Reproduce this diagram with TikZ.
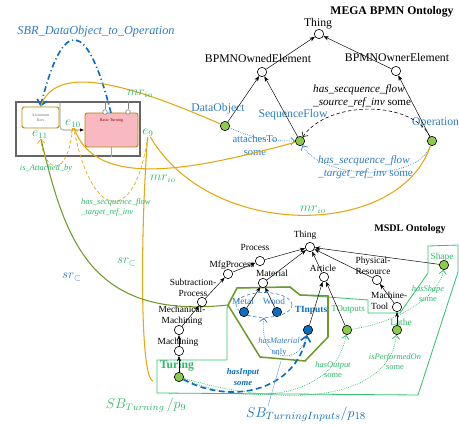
\documentclass[tikz,border=0pt]{standalone}
\usepackage{fontspec}
\setmainfont{Liberation Serif}
\usepackage{tikz}
\usetikzlibrary{arrows.meta,positioning,calc,shapes.geometric}
\definecolor{megablue}{HTML}{2E7CC4}
\definecolor{instblue}{HTML}{0A6CC2}
\definecolor{instgreen}{HTML}{8CCB4A}
\definecolor{markgreen}{HTML}{2DB86A}
\definecolor{goldline}{HTML}{E2A80E}
\definecolor{olivegreen}{HTML}{6F9A2A}
\definecolor{framegreen}{HTML}{33C270}
\definecolor{turnpink}{HTML}{F8B9C2}

\begin{document}
\begin{tikzpicture}[
  x=0.3mm, y=-0.3mm,
  cls/.style={circle, draw, fill=white, minimum size=2.8mm, inner sep=0pt, line width=0.5pt},
  inst/.style={cls, fill=instgreen},
  binst/.style={cls, fill=instblue},
  bigtxt/.style={inner sep=0pt, font=\fontsize{10}{11}\selectfont},
  smalltxt/.style={inner sep=0pt, align=center, font=\fontsize{8}{9}\selectfont},
  title/.style={inner sep=0pt, font=\bfseries\fontsize{10}{11}\selectfont},
  isa/.style={-{Stealth[length=1.6mm, width=1.2mm]}, line width=0.4pt},
  barb/.style={-{Straight Barb[length=1.1mm, width=2.2mm]}},
  relnote/.style={inner sep=0pt, align=left, font=\itshape\fontsize{9.5}{11}\selectfont},
  minirel/.style={inner sep=0pt, align=center, font=\itshape\fontsize{7.2}{8.6}\selectfont},
  elabel/.style={inner sep=0pt, text=markgreen, font=\fontsize{10.5}{12}\selectfont},
  goldln/.style={draw=goldline, line width=0.9pt},
  golddash/.style={draw=goldline, densely dashed, line width=0.6pt, barb},
  bpmnitem/.style={rectangle, rounded corners=2pt, draw=goldline!80!black, line width=0.8pt,
    inner sep=1pt, font=\fontsize{3.5}{4}\selectfont, text=gray},
  greendot/.style={draw=markgreen, densely dotted, line width=0.6pt, barb},
  bluedot/.style={draw=megablue, densely dotted, line width=0.6pt, barb}
]
\useasboundingbox (0,0) rectangle (459,425);

% regions of the two patterns
\coordinate (olv1) at (228,305);
\draw[framegreen, line width=0.7pt]
  (157,360) -- (227,360) -- (227,308) -- (237,288) -- (290,287) -- (300,295)
  -- (368,300) -- (368,313) -- (400,313) -- (428,273) -- (428,246) -- (458,245)
  -- (458,272) -- (418,395) -- (157,393) -- cycle;
\draw[olivegreen, line width=1.3pt]
  (olv1) -- (237,288) -- (290,287) -- (300,295) -- (328,296) -- (328,337)
  -- (305,361) -- (260,357) -- cycle;

% MEGA BPMN ontology
\node[title] (megatitle) at (392,12) {MEGA BPMN Ontology};
\node[cls] (thinga) at (319,34) {};
\node[bigtxt] (thingatxt) at (318,24) {Thing};
\node[cls] (owned) at (262,72) {};
\node[bigtxt] (ownedtxt) at (258,58) {BPMNOwnedElement};
\node[cls] (owner) at (396,71) {};
\node[bigtxt] (ownertxt) at (397,57) {BPMNOwnerElement};
\node[inst] (dataobj) at (225,126) {};
\node[bigtxt, text=megablue] (dataobjtxt) at (218,109) {DataObject};
\node[inst] (seqflow) at (300,141) {};
\node[bigtxt, text=megablue] (seqflowtxt) at (293,115) {SequenceFlow};
\node[inst] (operation) at (432,141) {};
\node[bigtxt, text=megablue, anchor=west] (operationtxt) at (412,123) {Operation};

\foreach \a/\b in {dataobj/owned, seqflow/owned, owned/thinga, operation/owner, owner/thinga}
  \draw[isa] (\a) -- (\b);

\draw[densely dashed, line width=0.5pt, barb] (operation) .. controls (412,100) and (328,100) .. (seqflow);
\node[relnote, anchor=west] (srcnote) at (313,96) {has\_secquence\_flow\\\_source\_ref\_inv \upshape some};
\draw[bluedot] (dataobj) to[bend right=12] (seqflow);
\node[inner sep=0pt, align=center, text=megablue, font=\fontsize{9}{11}\selectfont] (attnote) at (255,145) {attachesTo\\some};
\draw[bluedot] (operation) .. controls (418,182) and (322,180) .. (seqflow);
\node[relnote, anchor=west, text=megablue] (tgtnote) at (318,167) {has\_secquence\_flow\\\_target\_ref\_inv \upshape some};

% BPMN model fragment
\node[draw=gray!80!black, line width=1pt, minimum width=37.2mm, minimum height=16.2mm] (bpmnbox) at (78,129) {};
\node[bpmnitem, fill=white, minimum width=11.1mm, minimum height=6.3mm, align=center] (alubox) at (40.5,117.5) {Aluminum\\Bars};
\node[bpmnitem, fill=turnpink, minimum width=15.9mm, minimum height=10.2mm, text=red!50!black, text depth=6mm] (turnbox) at (111.5,130) {Basic Turning};
\foreach \x/\n in {105/evta, 128/evtb} {
  \node[circle, draw=gray, fill=white, minimum size=1.4mm, inner sep=0pt, line width=0.5pt] (\n) at (\x,112) {};
  \draw[gray, line width=0.5pt] (\n) -- (\n |- bpmnbox.north);
}
\coordinate (flowtop) at (60,103);
\draw[gray!55, line width=1.1pt, rounded corners=3pt, -{Latex[length=1.3mm, color=black]}] (flowtop) |- (turnbox);
\draw[gray!70, line width=0.8pt] (turnbox.south) -- (turnbox.south |- bpmnbox.south);

\node[elabel] (e11) at (40,135) {$e_{11}$};
\node[elabel] (e10) at (73,124) {$e_{10}$};
\node[elabel] (e9) at (148,133) {$e_{9}$};

% rule over the fragment
\node[inner sep=0pt, text=megablue, font=\itshape\fontsize{10.5}{12}\selectfont] (sbr) at (96,32) {SBR\_DataObject\_to\_Operation};
\coordinate (sbrend) at (111,113);
\draw[instblue, line width=1.4pt, dash pattern=on 5pt off 2.5pt on 1pt off 2.5pt,
  -{Straight Barb[length=1.6mm, width=3mm]}] (sbrend) .. controls (87,18) and (63,16) .. (alubox.north);

% mappings between fragment and ontologies
\draw[goldln] (dataobj) .. controls (120,80) and (55,65) .. (alubox.north);
\node[elabel] (mrio1) at (140,94) {$mr_{io}$};
\draw[goldln] (seqflow) .. controls (200,168) and (95,192) .. (e10);
\node[elabel] (mrio2) at (163,179) {$mr_{io}$};
\draw[goldln] (e9) .. controls (212,242) and (400,238) .. (operation);
\node[elabel] (mrio3) at (313,210) {$mr_{io}$};
\coordinate (srend) at (153,381);
\draw[goldln] (e9) .. controls (141,220) and (139,378) .. (srend);
\node[elabel] (sr1) at (127,262) {$sr_{\subset}$};
\draw[olivegreen, line width=0.9pt] (e11) .. controls (65,240) and (90,320) .. (olv1);
\node[elabel, text=megablue] (sr2) at (72,277) {$sr_{\subset}$};

\draw[golddash] (e10) .. controls (68,178) and (45,175) .. (e11);
\node[minirel, text=markgreen] (attby) at (46,168) {is\_Attached\_by};
\draw[golddash] (e9) .. controls (136,224) and (92,224) .. (e10);
\node[minirel, text=markgreen, anchor=west, align=left] (tgtby) at (81,207) {has\_secquence\_flow\\\_target\_ref\_inv};

% MSDL ontology
\node[title, font=\bfseries\fontsize{8.6}{10}\selectfont] (msdltitle) at (410,229) {MSDL Ontology};
\node[cls] (thingb) at (310,247) {};
\node[smalltxt] (thingbtxt) at (305,235) {Thing};
\node[cls] (process) at (260,261) {};
\node[smalltxt] (processtxt) at (255,247) {Process};
\node[cls] (mfg) at (228,274) {};
\node[smalltxt] (mfgtxt) at (232,265) {MfgProcess};
\node[cls] (subtr) at (202,302) {};
\node[smalltxt] (subtrtxt) at (193,288) {Subtraction-\\Process};
\node[cls] (mech) at (179,330) {};
\node[smalltxt] (mechtxt) at (182,316) {Mechanical-\\Machining};
\node[cls] (mach) at (179,351) {};
\node[smalltxt] (machtxt) at (178,342) {Machining};
\node[inst] (turing) at (179,377) {};
\node[inner sep=0pt, text=markgreen, font=\bfseries\fontsize{10}{11}\selectfont] (turingtxt) at (177,366) {Turing};
\node[cls] (material) at (263,283) {};
\node[smalltxt] (materialtxt) at (272,273) {Material};
\node[binst] (metal) at (244,312) {};
\node[smalltxt, text=megablue] (metaltxt) at (243,301) {Metal};
\node[binst] (wood) at (277,312) {};
\node[smalltxt, text=megablue] (woodtxt) at (274,301) {Wood};
\node[ellipse, draw=megablue, densely dashed, line width=0.5pt, minimum width=16.8mm, minimum height=7.5mm] (matset) at (264,305) {};
\node[cls] (article) at (324,277) {};
\node[smalltxt] (articletxt) at (323,268) {Article};
\node[binst] (tinputs) at (308,330) {};
\node[smalltxt, text=instblue, font=\bfseries\fontsize{8}{9}\selectfont] (tinputstxt) at (311,310) {TInputs};
\node[inst] (toutputs) at (347,330) {};
\node[smalltxt, text=markgreen, font=\fontsize{7.6}{9}\selectfont] (toutputstxt) at (348,310) {TOutputs};
\node[cls] (physres) at (377,280) {};
\node[smalltxt] (physrestxt) at (373,266) {Physical-\\Resource};
\node[cls] (machtool) at (397,307) {};
\node[smalltxt, align=left, anchor=west] (machtooltxt) at (371,301) {Machine-\\Tool};
\node[inst] (lathe) at (397,330) {};
\node[smalltxt, text=markgreen] (lathetxt) at (401,322) {Lathe};
\node[inst] (shape) at (444,265) {};
\node[smalltxt, text=markgreen] (shapetxt) at (442,257) {Shape};

\foreach \a/\b in {turing/mach, mach/mech, mech/subtr, subtr/mfg, mfg/process, process/thingb,
    material/thingb, article/thingb, physres/thingb, shape/thingb, metal/material, wood/material,
    tinputs/article, toutputs/article, machtool/physres, lathe/machtool}
  \draw[isa] (\a) -- (\b);

% object properties
\draw[greendot] (toutputs) .. controls (400,322) and (440,295) .. (shape);
\node[minirel, text=markgreen] (hasshape) at (428,294) {hasShape\\\upshape some};
\draw[greendot] (turing) .. controls (250,408) and (335,398) .. (toutputs);
\node[minirel, text=markgreen] (hasoutput) at (333,370) {hasOutput\\\upshape some};
\draw[greendot] (turing) .. controls (300,412) and (390,395) .. (lathe);
\node[minirel, text=markgreen] (performed) at (395,362) {isPerformedOn\\\upshape some};
\draw[bluedot] (tinputs) .. controls (300,368) and (258,362) .. (matset.south);
\node[minirel, text=megablue] (hasmat) at (279,347) {hasMaterial\\\upshape only};
\draw[instblue, line width=1.4pt, dash pattern=on 5pt off 3pt,
  -{Straight Barb[length=1.6mm, width=3mm]}] (turing) .. controls (230,405) and (295,392) .. (tinputs);
\node[minirel, text=instblue, font=\bfseries\itshape\fontsize{7.4}{8.8}\selectfont] (hasinput) at (243,377) {hasInput\\some};

% pattern names
\node[inner sep=0pt, text=markgreen, font=\fontsize{12}{14}\selectfont] (sbturning) at (146,405) {$SB_{Turning}\,/p_{9}$};
\node[inner sep=0pt, text=instblue, font=\fontsize{13}{15}\selectfont] (sbinputs) at (306,414) {$SB_{TurningInputs}/p_{18}$};
\coordinate (olvbottom) at (281,361);
\draw[megablue!70, line width=0.4pt] ($(sbinputs.north)+(-38,0)$) -- (olvbottom);

\end{tikzpicture}
\end{document}
